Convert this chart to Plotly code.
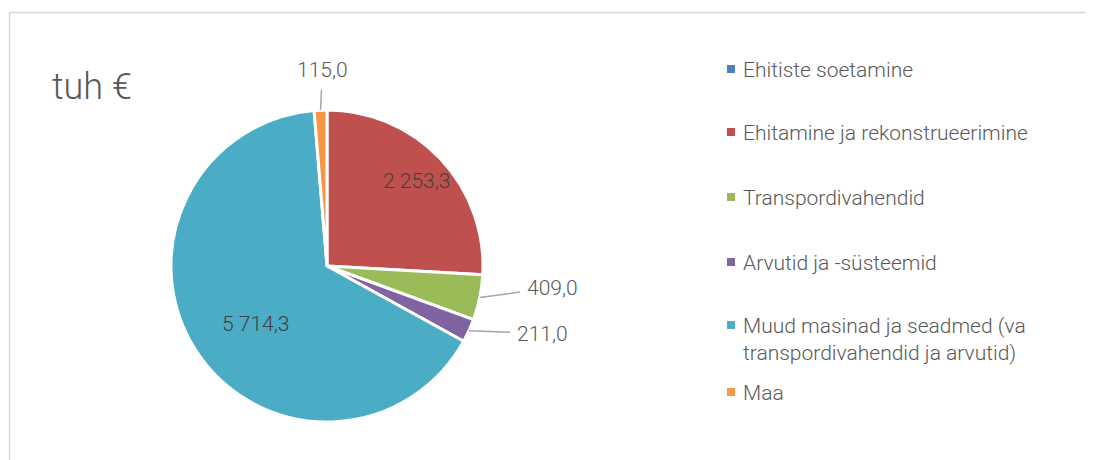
import math
import plotly.graph_objects as go

# ---------------- data ----------------
categories = [
    "Ehitiste soetamine",
    "Ehitamine ja rekonstrueerimine",
    "Transpordivahendid",
    "Arvutid ja -süsteemid",
    "Muud masinad ja seadmed (va transpordivahendid ja arvutid)",
    "Maa",
]
legend_labels = [
    "Ehitiste soetamine",
    "Ehitamine ja rekonstrueerimine",
    "Transpordivahendid",
    "Arvutid ja -süsteemid",
    "Muud masinad ja seadmed (va<br>transpordivahendid ja arvutid)",
    "Maa",
]
values = [0.0, 2253.3, 409.0, 211.0, 5714.3, 115.0]
unit_title = "tuh €"

# ---------------- styles ----------------
colors = ["#4F81BD", "#C0504D", "#9BBB59", "#8064A2", "#4BACC6", "#F79646"]
# outside labels: pixel offsets relative to slice edge
outside_offsets = {2: (73, -10), 3: (74, 3), 5: (2, -40)}
# inside labels: (fraction of radius, angle tweak in degrees)
inside_place = {1: (0.79, 0.0), 4: (0.59, -6.3)}

W, H = 1094, 460
OFF = 8  # page body margin
CX, CY, R = 327 - OFF, 266 - OFF, 156
FONT = "Roboto"
WEIGHT = 300


def fmt(v):
    s = f"{v:,.1f}"
    return s.replace(",", " ").replace(".", ",")


def px(x):
    return x / W


def py(y):
    return 1 - y / H


fig = go.Figure()
fig.add_trace(go.Pie(
    labels=categories,
    values=values,
    sort=False,
    direction="clockwise",
    rotation=0,
    marker=dict(colors=colors, line=dict(color="white", width=3)),
    textinfo="none",
    domain=dict(x=[px(CX - R), px(CX + R)], y=[py(CY + R), py(CY - R)]),
    showlegend=False,
    hoverinfo="label+value",
))

annotations = []
total = sum(values)
cum = 0.0
for i, v in enumerate(values):
    mid = (cum + v / 2) / total * 2 * math.pi
    cum += v
    if i in outside_offsets:
        ex = CX + R * math.sin(mid)
        ey = CY - R * math.cos(mid)
        ax, ay = outside_offsets[i]
        annotations.append(dict(
            x=px(ex), y=py(ey), xref="paper", yref="paper",
            text=fmt(v), showarrow=True, arrowhead=0, arrowwidth=1.5,
            arrowcolor="#A6A6A6", ax=ax, ay=ay, standoff=0, startstandoff=6,
            font=dict(family=FONT, size=21, color="#595959", weight=WEIGHT),
        ))
    elif i in inside_place:
        frac, tweak = inside_place[i]
        a = mid + math.radians(tweak)
        tx = CX + frac * R * math.sin(a)
        ty = CY - frac * R * math.cos(a)
        annotations.append(dict(
            x=px(tx), y=py(ty), xref="paper", yref="paper",
            xanchor="center", yanchor="middle",
            text=fmt(v), showarrow=False,
            font=dict(family=FONT, size=21, color="#404040", weight=WEIGHT),
        ))

# title
annotations.append(dict(
    x=px(50 - OFF), y=py(87 - OFF), xref="paper", yref="paper",
    xanchor="left", yanchor="middle",
    text=unit_title, showarrow=False,
    font=dict(family=FONT, size=36, color="#595959", weight=WEIGHT),
))

# manual legend
legend_y = [69, 132, 197, 262, 325, 392]
shapes = []
for i, lab in enumerate(legend_labels):
    yy = legend_y[i] - OFF
    shapes.append(dict(
        type="rect", xref="paper", yref="paper",
        x0=px(727 - OFF), x1=px(735 - OFF), y0=py(yy + 4), y1=py(yy - 4),
        fillcolor=colors[i], line=dict(width=0),
    ))
    annotations.append(dict(
        x=px(741 - OFF), y=py(yy - 13), xref="paper", yref="paper",
        xanchor="left", yanchor="top", align="left",
        text=lab, showarrow=False,
        font=dict(family=FONT, size=21, color="#595959", weight=WEIGHT),
    ))

# outer frame
shapes.append(dict(
    type="rect", xref="paper", yref="paper",
    x0=px(9.5 - OFF), x1=px(W + 20), y0=py(H + 20), y1=py(12.5 - OFF),
    line=dict(color="#D9D9D9", width=1.3), fillcolor="rgba(0,0,0,0)",
))

fig.update_layout(
    width=W, height=H,
    margin=dict(l=0, r=0, t=0, b=0),
    paper_bgcolor="white", plot_bgcolor="white",
    separators=", ",
    annotations=annotations,
    shapes=shapes,
    font=dict(family=FONT, color="#595959"),
)

fig.write_html("out.html")
